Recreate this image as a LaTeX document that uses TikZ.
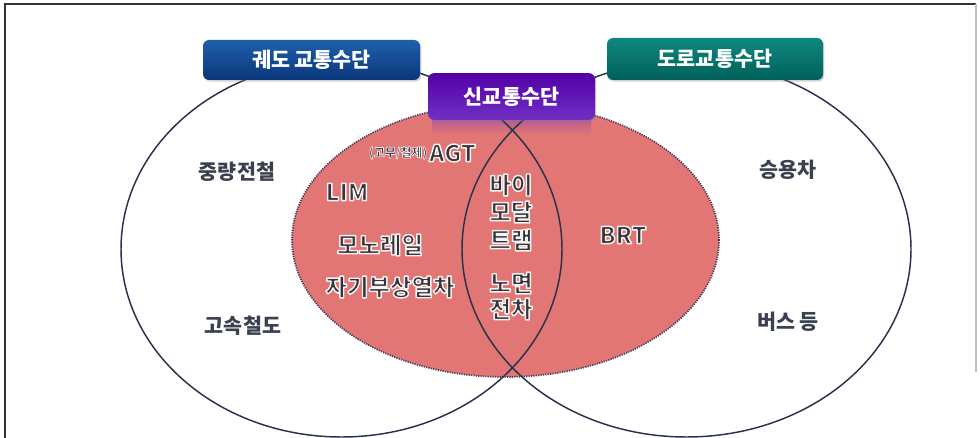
\documentclass[tikz,border=0pt]{standalone}
\usepackage{fontspec}
\setmainfont{Noto Sans CJK KR}
\usetikzlibrary{shadows}
\definecolor{redfill}{RGB}{225,118,116}
\definecolor{lineblue}{RGB}{40,50,78}
\definecolor{dotcol}{RGB}{70,60,90}
\definecolor{outtxt}{RGB}{58,64,80}
\definecolor{intxt}{RGB}{52,52,60}
\definecolor{blueT}{RGB}{30,96,172}
\definecolor{blueB}{RGB}{10,54,122}
\definecolor{tealT}{RGB}{14,136,126}
\definecolor{tealB}{RGB}{0,96,90}
\definecolor{purpT}{RGB}{82,0,165}
\definecolor{purpB}{RGB}{112,48,196}
\newcommand\halotext[1]{\special{pdf:literal direct 2 Tr 1.1 w 1 j 0.97 0.95 0.95 RG}#1\special{pdf:literal direct 0 Tr}}
\newcommand\halosmall[1]{\special{pdf:literal direct 2 Tr 0.5 w 1 j 0.97 0.95 0.95 RG}#1\special{pdf:literal direct 0 Tr}}
\tikzset{
  headbox/.style={rounded corners=4.5pt, text=white, font=\bfseries\fontsize{15.5}{17}\selectfont,
    inner sep=0pt, drop shadow={opacity=0.35, shadow xshift=1pt, shadow yshift=-1.2pt}},
  outlabel/.style={text=outtxt, font=\bfseries\fontsize{15.5}{17}\selectfont, inner sep=0pt},
  inlabel/.style={text=intxt, font=\bfseries\fontsize{17.5}{19}\selectfont, inner sep=0pt},
  venn/.style={draw=lineblue, line width=1.1pt}
}
\begin{document}
\begin{tikzpicture}[x=0.75pt,y=-0.75pt]
\useasboundingbox (0,0) rectangle (980,438);
% frame
\draw[line width=1.3pt, black!80] (5,438) -- (5,4) -- (976,4);
\draw[line width=0.8pt, black!25] (976,4) -- (976,372);
% red ellipse
\fill[redfill] (505.5,240) ellipse [x radius=213.5, y radius=137];
\draw[dotcol, line width=1.3pt, dash pattern=on 0.9pt off 0.9pt] (505.5,240) ellipse [x radius=213.5, y radius=137];
% reflection under purple box
\shade[top color=purpB!40!redfill, bottom color=redfill] (432,119) rectangle (591,134);
% venn ellipses
\draw[venn] (341.5,249) ellipse [x radius=220.5, y radius=188];
\draw[venn] (686.5,249) ellipse [x radius=224.5, y radius=188];
% header boxes
\node[headbox, top color=blueT, bottom color=blueB, minimum width=162.75pt, minimum height=30pt] (rail) at (311.5,60) {궤도 교통수단};
\node[headbox, top color=tealT, bottom color=tealB, minimum width=162pt, minimum height=31.5pt] (road) at (715,59) {도로교통수단};
\node[headbox, top color=purpT, bottom color=purpB, minimum width=125.25pt, minimum height=35pt] (new) at (511.5,96.5) {신교통수단};
% outer labels
\node[outlabel] (l1) at (237,172) {중량전철};
\node[outlabel] (l2) at (243,326) {고속철도};
\node[outlabel] (r1) at (788,170) {승용차};
\node[outlabel] (r2) at (788,322) {버스 등};
% inner labels
\node[inlabel, anchor=east] (agt) at (476,153) {\halotext{AGT}};
\node[inlabel, font=\bfseries\fontsize{9}{10}\selectfont, anchor=east] (agtpre) at ([xshift=-1pt]agt.west) {\halosmall{(고무/철제)}};
\node[inlabel] (lim) at (347,192) {\halotext{LIM}};
\node[inlabel] (mono) at (380,245) {\halotext{모노레일}};
\node[inlabel] (maglev) at (390,287) {\halotext{자기부상열차}};
\node[inlabel] (b1) at (511,185) {\halotext{바이}};
\node[inlabel] (b2) at (511,212) {\halotext{모달}};
\node[inlabel] (b3) at (511,240) {\halotext{트램}};
\node[inlabel] (b4) at (511,283) {\halotext{노면}};
\node[inlabel] (b5) at (511,309) {\halotext{전차}};
\node[inlabel] (brt) at (623,235) {\halotext{BRT}};
\end{tikzpicture}
\end{document}
